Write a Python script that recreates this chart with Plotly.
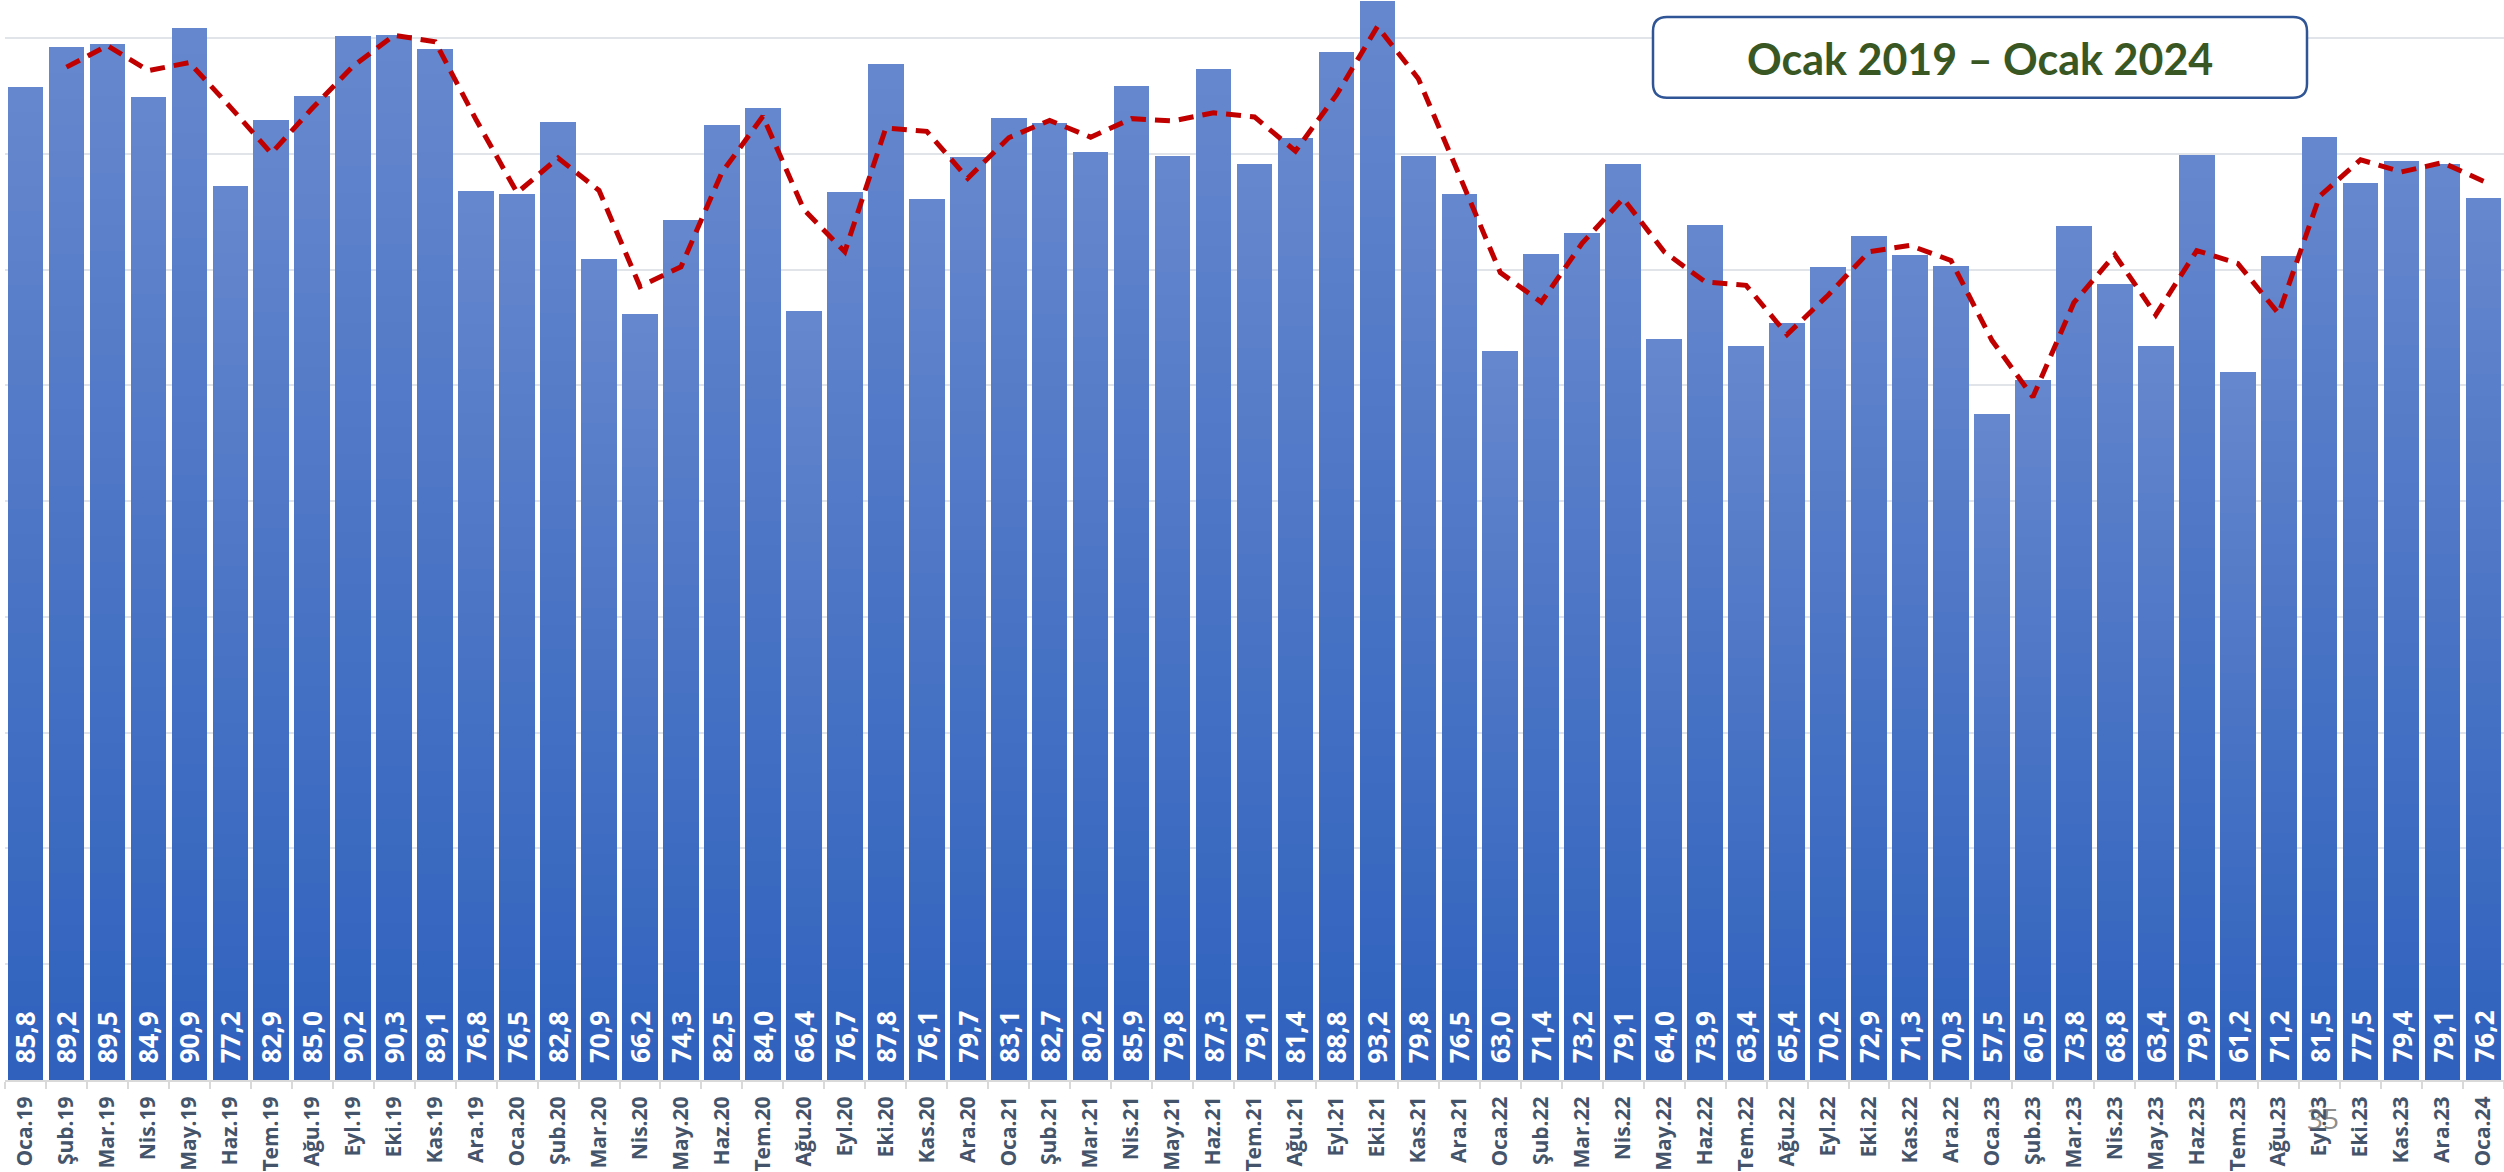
import plotly.graph_objects as go
import pandas as pd

# ---------------- data ----------------
months = ["Oca", "Şub", "Mar", "Nis", "May", "Haz", "Tem", "Ağu", "Eyl", "Eki", "Kas", "Ara"]
years = ["19", "20", "21", "22", "23"]
categories = [f"{m}.{y}" for y in years for m in months] + ["Oca.24"]

values = [
    85.8, 89.2, 89.5, 84.9, 90.9, 77.2, 82.9, 85.0, 90.2, 90.3, 89.1, 76.8,   # 2019
    76.5, 82.8, 70.9, 66.2, 74.3, 82.5, 84.0, 66.4, 76.7, 87.8, 76.1, 79.7,   # 2020
    83.1, 82.7, 80.2, 85.9, 79.8, 87.3, 79.1, 81.4, 88.8, 93.2, 79.8, 76.5,   # 2021
    63.0, 71.4, 73.2, 79.1, 64.0, 73.9, 63.4, 65.4, 70.2, 72.9, 71.3, 70.3,   # 2022
    57.5, 60.5, 73.8, 68.8, 63.4, 79.9, 61.2, 71.2, 81.5, 77.5, 79.4, 79.1,   # 2023
    76.2,                                                                     # 2024
]

title_text = "Ocak 2019 – Ocak 2024"
page_number = "35"

# 2-period moving average trendline (as drawn in the source chart)
moving_avg = pd.Series(values).rolling(2).mean().tolist()

# ---------------- geometry ----------------
W, H = 2504, 1172
ML, MR, MT, MB = 5, 0, 0, 90
PW, PH = W - ML - MR, H - MT - MB


def px_x(px):
    return (px - ML) / PW


def px_y(py):
    return (H - MB - py) / PH


fig = go.Figure()

# gradient bars: stack thin slices of each bar, light at top, dark at bottom
N = 40
top_rgb = (102, 135, 205)
bot_rgb = (46, 97, 189)
for k in range(N):
    t = (k + 0.5) / N
    c = tuple(round(bot_rgb[i] + (top_rgb[i] - bot_rgb[i]) * t) for i in range(3))
    fig.add_trace(go.Bar(
        x=categories,
        y=[v / N for v in values],
        marker=dict(color=f"rgb{c}", line=dict(width=0)),
        hoverinfo="skip",
        showlegend=False,
    ))

# moving average
fig.add_trace(go.Scatter(
    x=categories,
    y=moving_avg,
    mode="lines",
    line=dict(color="#C00000", width=5, dash="15px,9px"),
    hoverinfo="skip",
    showlegend=False,
))

annotations = []
for cat, v in zip(categories, values):
    annotations.append(dict(
        x=cat, y=0, xref="x", yref="y",
        text=f"{v:.1f}".replace(".", ","),
        textangle=-90,
        showarrow=False,
        xanchor="center", yanchor="bottom",
        yshift=15,
        font=dict(family="Open Sans", size=26, color="white", weight="bold"),
    ))

# title box
bx0, bx1, by0, by1, r = 1653, 2307, 17, 98, 14
path = (
    f"M {px_x(bx0 + r)},{px_y(by0)} "
    f"L {px_x(bx1 - r)},{px_y(by0)} "
    f"Q {px_x(bx1)},{px_y(by0)} {px_x(bx1)},{px_y(by0 + r)} "
    f"L {px_x(bx1)},{px_y(by1 - r)} "
    f"Q {px_x(bx1)},{px_y(by1)} {px_x(bx1 - r)},{px_y(by1)} "
    f"L {px_x(bx0 + r)},{px_y(by1)} "
    f"Q {px_x(bx0)},{px_y(by1)} {px_x(bx0)},{px_y(by1 - r)} "
    f"L {px_x(bx0)},{px_y(by0 + r)} "
    f"Q {px_x(bx0)},{px_y(by0)} {px_x(bx0 + r)},{px_y(by0)} Z"
)
shapes = [dict(
    type="path", xref="paper", yref="paper", path=path,
    line=dict(color="#2F5597", width=2.5), fillcolor="white", layer="above",
)]

annotations.append(dict(
    x=px_x((bx0 + bx1) / 2), y=px_y((by0 + by1) / 2 + 1),
    xref="paper", yref="paper",
    text=f"<b>{title_text}</b>", showarrow=False,
    xanchor="center", yanchor="middle",
    font=dict(family="Lato", size=43, color="#385723"),
))

annotations.append(dict(
    x=px_x(2323), y=px_y(1120), xref="paper", yref="paper",
    text=page_number, showarrow=False, xanchor="center", yanchor="middle",
    font=dict(family="Open Sans", size=28, color="rgba(110,110,110,0.8)"),
))

fig.update_layout(
    width=W, height=H, autosize=False,
    margin=dict(l=ML, r=MR, t=MT, b=MB, pad=0),
    paper_bgcolor="white", plot_bgcolor="white",
    barmode="stack", bargap=0.13,
    showlegend=False,
    annotations=annotations,
    shapes=shapes,
    xaxis=dict(
        type="category",
        tickangle=-90,
        tickfont=dict(family="Open Sans", size=21, color="#44546A", weight="bold"),
        showline=True, linecolor="#D9D9D9", linewidth=2,
        ticks="outside", tickson="boundaries", ticklen=7,
        tickcolor="#D9D9D9", tickwidth=2,
        showgrid=False,
        ticklabelstandoff=6,
    ),
    yaxis=dict(
        range=[0, 93.3],
        dtick=10, tick0=0,
        showticklabels=False,
        showgrid=True, gridcolor="#E1E5EA", gridwidth=2,
        zeroline=False, showline=False, ticks="",
    ),
)

fig.write_html(
    "out.html",
    config={"displayModeBar": False},
    post_script="document.body.style.margin='0';",
)
